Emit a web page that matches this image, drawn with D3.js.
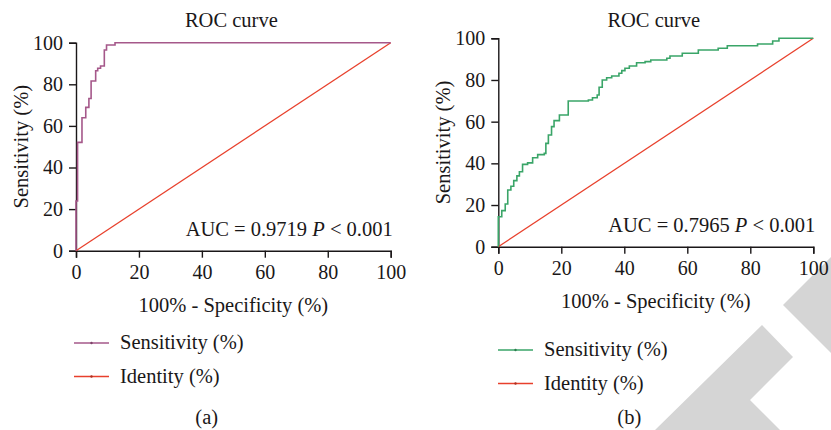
<!DOCTYPE html>
<html>
<head>
<meta charset="utf-8">
<script src="https://cdn.jsdelivr.net/npm/d3@7"></script>
<style>
  body { margin: 0; background: #fff; }
  svg text { font-family: "Liberation Serif", "Times New Roman", serif; fill: #1a1718; }
</style>
</head>
<body>
<div id="chart"></div>
<script>
const ticks = [0, 20, 40, 60, 80, 100];

// panel (a) ROC points, 100 - specificity vs sensitivity
const fprA = [0, 0, 0.5, 1.9, 3.1, 4.1, 4.8, 6.25, 6.9, 7.8, 9.0, 9.7, 12.4, 100];
const tprA = [0, 23.9, 52.1, 63.9, 68.9, 73.2, 81.6, 86.5, 87.7, 88.8, 96.5, 98.9, 100, 100];

// panel (b)
const fprB = [0, 0, 1.1, 2.2, 3.0, 4.0, 4.9, 5.9, 6.7, 7.7, 9.3, 10.9, 12.5, 14.6, 15.1, 15.9,
    16.9, 17.7, 19.4, 22.2, 28.6, 29.9, 31.4, 32.0, 33.0, 34.4, 36.0, 38.3, 39.2, 40.2, 41.6,
    43.9, 46.6, 48.4, 53.5, 54.5, 58.4, 63.5, 69.8, 72.7, 82.3, 87.1, 89.1, 100];
const tprB = [0, 14.4, 17.3, 20.5, 27.2, 29.0, 31.7, 34.0, 36.0, 39.5, 40.2, 42.7, 44.2, 44.8, 49.6, 53.6,
    57.6, 60.5, 63.2, 69.9, 70.4, 71.5, 72.8, 76.5, 80.0, 81.1, 81.9, 83.2, 84.5, 85.6, 86.7,
    88.3, 88.8, 89.6, 90.4, 91.5, 92.8, 94.4, 95.2, 96.4, 97.3, 98.7, 100, 100];

const identity = [0, 100];

const panels = [
    {fpr: fprA, tpr: tprA, color: "#a5588a", auc: "0.9719", tag: "(a)",
     x0: 76, x1: 390.7, y0: 250.7, y1: 42.7, ylabX: 22, xlabY: 312, legY: 343, legX: 74, tagX: 206.7, tagY: 424},
    {fpr: fprB, tpr: tprB, color: "#3aa568", auc: "0.7965", tag: "(b)",
     x0: 498.3, x1: 813.3, y0: 246.7, y1: 38.3, ylabX: 444, xlabY: 308, legY: 350, legX: 498, tagX: 629.3, tagY: 424}
];

const width = 831, height = 430;
const fontSize = 20.5;
const tickFont = 20;

let svg = d3.select("#chart")
    .append("svg")
    .attr("width", width)
    .attr("height", height);

// grey watermark in the corner
let wm = svg.append("g").attr("fill", "#d5d5d5");
wm.append("polygon").attr("points", "655,430 762,325 793,357 750,400 780,430");
wm.append("polygon").attr("points", "783,305 831,257 831,353");

panels.forEach(function(p) {
    let x = d3.scaleLinear().domain([0, 100]).range([p.x0, p.x1]);
    let y = d3.scaleLinear().domain([0, 100]).range([p.y0, p.y1]);
    let g = svg.append("g");

    g.append("g")
        .attr("transform", `translate(0, ${p.y0})`)
        .call(d3.axisBottom(x).tickValues(ticks).tickSize(7).tickPadding(7))
        .call(ax => ax.select(".domain").attr("stroke", "#1a1718").attr("stroke-width", 1.4))
        .call(ax => ax.selectAll(".tick line").attr("stroke", "#1a1718").attr("stroke-width", 1.4))
        .call(ax => ax.selectAll(".tick text").attr("font-size", tickFont).attr("font-family", null).attr("fill", null));

    g.append("g")
        .attr("transform", `translate(${p.x0}, 0)`)
        .call(d3.axisLeft(y).tickValues(ticks).tickSize(7).tickPadding(6))
        .call(ax => ax.select(".domain").attr("stroke", "#1a1718").attr("stroke-width", 1.4))
        .call(ax => ax.selectAll(".tick line").attr("stroke", "#1a1718").attr("stroke-width", 1.4))
        .call(ax => ax.selectAll(".tick text").attr("font-size", tickFont).attr("font-family", null).attr("fill", null));

    // identity line
    g.append("path")
        .datum(identity)
        .attr("fill", "none")
        .attr("stroke", "#e8402c")
        .attr("stroke-width", 1.3)
        .attr("d", d3.line().x(d => x(d)).y(d => y(d)));

    // ROC step curve
    let pts = p.fpr.map((f, i) => [f, p.tpr[i]]);
    g.append("path")
        .datum(pts)
        .attr("fill", "none")
        .attr("stroke", p.color)
        .attr("stroke-width", 1.6)
        .attr("d", d3.line().curve(d3.curveStepAfter).x(d => x(d[0])).y(d => y(d[1])));

    let cx = (p.x0 + p.x1) / 2;
    g.append("text")
        .attr("x", cx - 2).attr("y", 27)
        .attr("text-anchor", "middle")
        .attr("font-size", fontSize)
        .text("ROC curve");

    g.append("text")
        .attr("transform", `translate(${p.ylabX + 6}, ${(p.y0 + p.y1) / 2}) rotate(-90)`)
        .attr("text-anchor", "middle")
        .attr("font-size", fontSize)
        .text("Sensitivity (%)");

    g.append("text")
        .attr("x", cx).attr("y", p.xlabY)
        .attr("text-anchor", "middle")
        .attr("font-size", fontSize)
        .text("100% - Specificity (%)");

    let auc = g.append("text")
        .attr("x", p.x1 + 2).attr("y", p.y0 - 15)
        .attr("text-anchor", "end")
        .attr("font-size", fontSize);
    auc.append("tspan").text("AUC = " + p.auc + " ");
    auc.append("tspan").attr("font-style", "italic").text("P");
    auc.append("tspan").text(" < 0.001");

    // legend
    let leg = [{name: "Sensitivity (%)", color: p.color}, {name: "Identity (%)", color: "#e8402c"}];
    leg.forEach(function(l, i) {
        let ly = p.legY + i * 33.5;
        g.append("line")
            .attr("x1", p.legX).attr("x2", p.legX + 35)
            .attr("y1", ly).attr("y2", ly)
            .attr("stroke", l.color).attr("stroke-width", 1.4);
        g.append("circle")
            .attr("cx", p.legX + 17.5).attr("cy", ly).attr("r", 1.2)
            .attr("fill", d3.color(l.color).darker(0.8));
        g.append("text")
            .attr("x", p.legX + 46).attr("y", ly + 6)
            .attr("font-size", fontSize)
            .text(l.name);
    });

    g.append("text")
        .attr("x", p.tagX).attr("y", p.tagY)
        .attr("text-anchor", "middle")
        .attr("font-size", fontSize)
        .text(p.tag);
});
</script>
</body>
</html>
